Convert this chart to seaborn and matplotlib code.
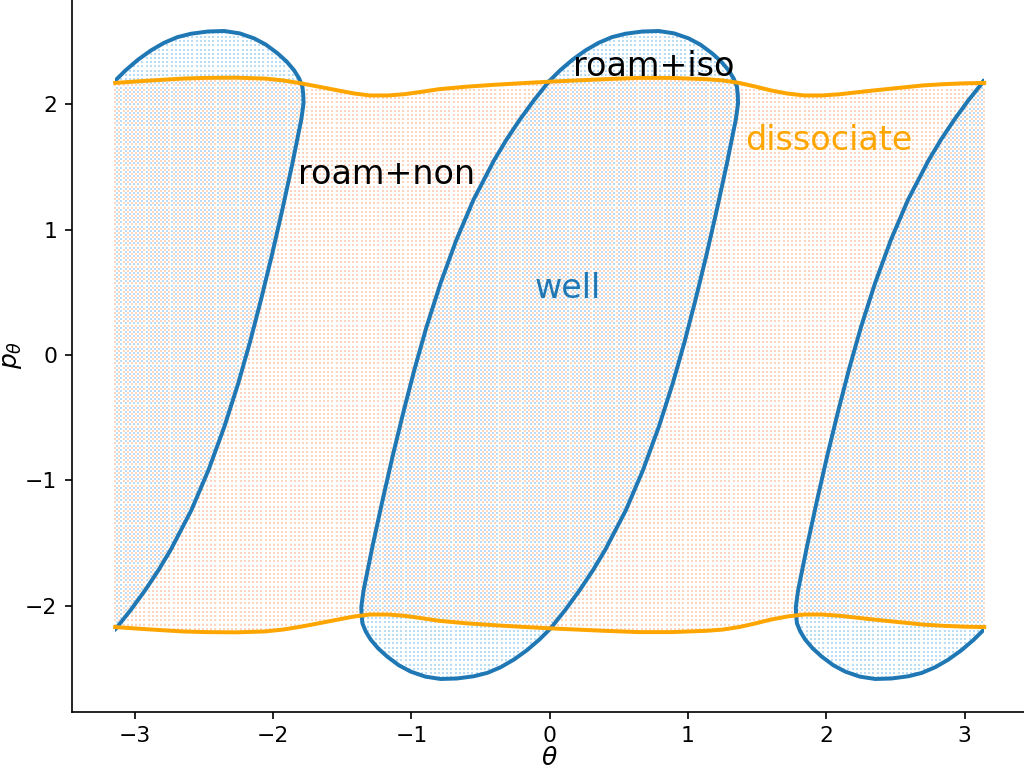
import numpy as np
import pandas as pd
import matplotlib
matplotlib.use("Agg")
import matplotlib.pyplot as plt
from matplotlib.path import Path
from matplotlib.patches import Rectangle
import seaborn as sns

# well boundary, one loop centred on theta = 0 (repeats every pi)
loop_theta = [-0.007, 0.075, 0.165, 0.26, 0.354, 0.45, 0.547, 0.67, 0.788, 0.90, 1.005,
              1.09, 1.174, 1.24, 1.294, 1.33, 1.354, 1.36, 1.362, 1.355, 1.345, 1.280,
              1.208, 1.134, 1.054, 0.974, 0.890, 0.790, 0.675, 0.550, 0.401, 0.311, 0.218,
              0.115,
              0.007, -0.075, -0.165, -0.26, -0.354, -0.45, -0.547, -0.67, -0.788, -0.90,
              -1.005, -1.09, -1.174, -1.24, -1.294, -1.33, -1.354, -1.36, -1.362, -1.355,
              -1.345, -1.280, -1.208, -1.134, -1.054, -0.974, -0.890, -0.790, -0.675,
              -0.550, -0.401, -0.311, -0.218, -0.115, -0.007]
loop_p = [2.18, 2.27, 2.355, 2.43, 2.49, 2.535, 2.562, 2.58, 2.584, 2.565, 2.525,
          2.475, 2.406, 2.34, 2.27, 2.205, 2.14, 2.075, 2.01, 1.95, 1.874, 1.52,
          1.156, 0.80, 0.439, 0.10, -0.226, -0.57, -0.917, -1.24, -1.555, -1.72, -1.874,
          -2.03,
          -2.18, -2.27, -2.355, -2.43, -2.49, -2.535, -2.562, -2.58, -2.584, -2.565,
          -2.525, -2.475, -2.406, -2.34, -2.27, -2.205, -2.14, -2.075, -2.01, -1.95,
          -1.874, -1.52, -1.156, -0.80, -0.439, -0.10, 0.226, 0.57, 0.917,
          1.24, 1.555, 1.72, 1.874, 2.03, 2.18]
loop_shifts = [-np.pi, 0.0, np.pi]

# dissociation boundary (upper branch, lower branch is its mirror)
diss_theta = [-3.1416, -2.97, -2.8, -2.65, -2.49, -2.27, -2.06, -1.93, -1.815, -1.67,
              -1.53, -1.41, -1.30, -1.17, -1.05, -0.92, -0.80, -0.60, -0.40, -0.20, 0.0,
              0.20, 0.40, 0.64, 0.88, 1.13, 1.25, 1.37, 1.49, 1.60, 1.72, 1.84, 1.97,
              2.10, 2.30, 2.52, 2.70, 2.85, 3.00, 3.1416]
diss_p = [2.17, 2.183, 2.195, 2.205, 2.21, 2.212, 2.205, 2.19, 2.17, 2.14,
          2.11, 2.085, 2.07, 2.07, 2.08, 2.10, 2.12, 2.14, 2.155, 2.168, 2.18,
          2.19, 2.20, 2.21, 2.21, 2.20, 2.19, 2.17, 2.14, 2.11, 2.085, 2.07, 2.07,
          2.08, 2.105, 2.13, 2.15, 2.16, 2.167, 2.17]

labels = ["roam+non", "roam+iso", "well", "dissociate"]
label_pos = [(-1.18, 1.36), (0.75, 2.225), (0.13, 0.452), (2.02, 1.635)]
label_colors = ["black", "black", "#1f77b4", "orange"]

BLUE = "#1f77b4"
ORANGE = "orange"

fig = plt.figure(figsize=(1024 / 150, 784 / 150), dpi=150)
ax = fig.add_axes([0.070, 0.0922, 0.9336, 0.910])

# sampling grid used to shade the regions
n_t, n_p = 209, 157
tg = np.linspace(-np.pi, np.pi, n_t)
pg = np.linspace(-2.62, 2.62, n_p)
dt = tg[1] - tg[0]
dp = pg[1] - pg[0]

TT, PP = np.meshgrid(tg, pg)
top = np.interp(TT, diss_theta, diss_p)
in_band = (PP < top) & (PP > -top)
band_df = pd.DataFrame({"theta": TT[in_band], "p": PP[in_band]})

TB, PB = np.meshgrid(tg[:-1] + dt / 2, pg[:-1] + dp / 2)
pts = np.column_stack([TB.ravel(), PB.ravel()])
in_well = np.zeros(len(pts), dtype=bool)
for s in loop_shifts:
    path = Path(np.column_stack([np.array(loop_theta) + s, loop_p]))
    in_well |= path.contains_points(pts)
well_df = pd.DataFrame({"theta": pts[in_well, 0], "p": pts[in_well, 1]})

sns.scatterplot(data=band_df, x="theta", y="p", color="#fdd6bd", s=0.8, marker="s",
                linewidth=0, ax=ax, legend=False, zorder=1)
sns.scatterplot(data=well_df, x="theta", y="p", color="#b9ddf7", s=1.6, marker="s",
                linewidth=0, ax=ax, legend=False, zorder=1)

# blue loops
frames = []
for i, s in enumerate(loop_shifts):
    frames.append(pd.DataFrame({"theta": np.array(loop_theta) + s, "p": loop_p, "piece": i}))
loops_df = pd.concat(frames, ignore_index=True)
n_before = len(ax.lines)
sns.lineplot(data=loops_df, x="theta", y="p", units="piece", estimator=None, sort=False,
             color=BLUE, lw=1.9, ax=ax, legend=False)
clip = Rectangle((-np.pi, -5), 2 * np.pi, 10, transform=ax.transData)
for ln in ax.lines[n_before:]:
    ln.set_clip_path(clip)
    ln.set_solid_joinstyle("round")

# orange boundaries
diss_df = pd.concat([
    pd.DataFrame({"theta": diss_theta, "p": diss_p, "piece": 0}),
    pd.DataFrame({"theta": diss_theta, "p": [-v for v in diss_p], "piece": 1}),
], ignore_index=True)
n_before = len(ax.lines)
sns.lineplot(data=diss_df, x="theta", y="p", units="piece", estimator=None, sort=False,
             color=ORANGE, lw=1.9, ax=ax, legend=False)
for ln in ax.lines[n_before:]:
    ln.set_solid_joinstyle("round")

for txt, (x, y), c in zip(labels, label_pos, label_colors):
    ax.text(x, y, txt, color=c, fontsize=16, ha="center", va="baseline")

ax.set_xlim(-3.456, 3.456)
ax.set_ylim(-2.845, 2.845)
ax.set_xticks([-3, -2, -1, 0, 1, 2, 3])
ax.set_yticks([-2, -1, 0, 1, 2])
ax.tick_params(labelsize=10.5)
ax.set_xlabel(r"$\theta$", fontsize=12, labelpad=0)
ax.set_ylabel(r"$p_\theta$", fontsize=12)
ax.yaxis.set_label_coords(-0.05, 0.5)
ax.spines["top"].set_visible(False)
ax.spines["right"].set_visible(False)

fig.savefig("out.png", dpi=150)
